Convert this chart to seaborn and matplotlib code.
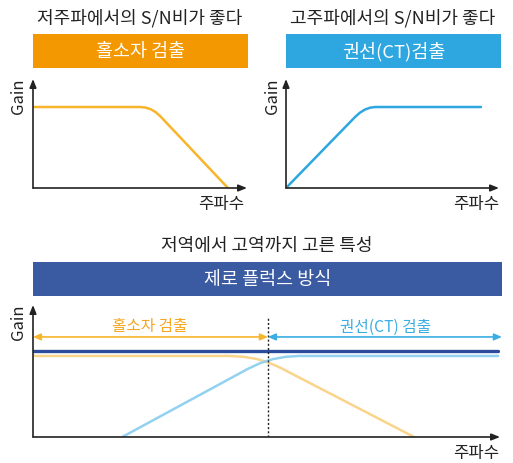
import numpy as np
import pandas as pd
import matplotlib as mpl
import matplotlib.pyplot as plt
import seaborn as sns
from matplotlib.patches import Rectangle

sns.set_style('white')
plt.rcParams['font.family'] = ['Noto Sans CJK KR', 'DejaVu Sans']

# DATA (frequency and gain in % of axis range)
# hall sensor detection: good S/N at low frequency
hall_freq = [0, 50, 52.6, 55.1, 57.4, 59.5, 91.1]
hall_gain = [74.3, 74.3, 73.8, 72.2, 69.5, 65.8, 0]

# CT (current transformer) detection: good S/N at high frequency
ct_freq = [0, 32.4, 34.7, 37.1, 39.5, 42, 91.5]
ct_gain = [0, 65.1, 69.1, 72.0, 73.7, 74.3, 74.3]

# zero flux: combined
zf_freq = [0, 99.6]
zf_gain = [65.2, 65.2]
zf_hall_freq = [0, 42, 45.0, 47.85, 50.5, 53, 81.6]
zf_hall_gain = [61.4, 61.4, 60.8, 59.15, 56.3, 52.4, 0]
zf_ct_freq = [19.1, 46, 48.6, 51.3, 54.2, 57, 99.6]
zf_ct_gain = [0, 51.6, 55.9, 58.95, 60.8, 61.4, 61.4]
crossover = 50.3

titles = ['저주파에서의 S/N비가 좋다', '고주파에서의 S/N비가 좋다', '저역에서 고역까지 고른 특성']
boxes = ['홀소자 검출', '권선(CT)검출', '제로 플럭스 방식']
band_labels = ['홀소자 검출', '권선(CT) 검출']

ORANGE_BOX = '#F39800'
BLUE_BOX = '#2EA7E0'
NAVY_BOX = '#3A5AA2'
ORANGE_LINE = '#F7B52C'
BLUE_LINE = '#2EA7E0'
NAVY_LINE = '#2C4B9B'
ORANGE_LIGHT = '#FBD48C'
BLUE_LIGHT = '#92D2F0'
ORANGE_TEXT = '#F5A623'
BLUE_TEXT = '#3AAEE3'
DARK = '#222222'

W, H = 513, 464
fig = plt.figure(figsize=(W / 100, H / 100), dpi=100)


def rect(l, t, r, b):
    return [l / W, 1 - b / H, (r - l) / W, (b - t) / H]


def ftext(x, y, s, **kw):
    # text placed in pixel coords from top-left
    kw.setdefault('color', DARK)
    fig.text(x / W, 1 - y / H, s, ha='center', va='center', **kw)


def add_box(l, t, r, b, color, text):
    fig.add_artist(Rectangle((l / W, 1 - b / H), (r - l) / W, (b - t) / H,
                             transform=fig.transFigure, color=color, lw=0))
    ftext((l + r) / 2, (t + b) / 2, text, color='white', fontsize=13.3)


def setup_axes(ax):
    ax.set_xlim(0, 100)
    ax.set_ylim(0, 100)
    for s in ax.spines.values():
        s.set_visible(False)
    ax.set_xticks([])
    ax.set_yticks([])
    ax.set_xlabel('')
    ax.set_ylabel('')
    ax.patch.set_alpha(0)
    arrow = dict(arrowstyle='-|>,head_length=0.5,head_width=0.2', color=DARK,
                 lw=1.2, shrinkA=0, shrinkB=0)
    ax.annotate('', xy=(1, 0), xytext=(0, 0), xycoords='axes fraction',
                arrowprops=arrow, annotation_clip=False)
    ax.annotate('', xy=(0, 1), xytext=(0, 0), xycoords='axes fraction',
                arrowprops=arrow, annotation_clip=False)


# top-left panel
ftext(140, 18, titles[0], fontsize=13)
add_box(33, 35, 248, 69, ORANGE_BOX, boxes[0])
ax1 = fig.add_axes(rect(33, 80, 247, 189))
sns.lineplot(x=hall_freq, y=hall_gain, ax=ax1, color=ORANGE_LINE, lw=1.8)
setup_axes(ax1)
ftext(19, 96, 'Gain', fontsize=12, rotation=90)
ftext(221, 204, '주파수', fontsize=12)

# top-right panel
ftext(393, 18, titles[1], fontsize=13)
add_box(286, 35, 501, 69, BLUE_BOX, boxes[1])
ax2 = fig.add_axes(rect(286, 80, 499, 189))
sns.lineplot(x=ct_freq, y=ct_gain, ax=ax2, color=BLUE_LINE, lw=1.8)
setup_axes(ax2)
ftext(272, 96, 'Gain', fontsize=12, rotation=90)
ftext(476, 204, '주파수', fontsize=12)

# bottom panel
ftext(267, 245.5, titles[2], fontsize=13)
add_box(33, 263, 502, 297, NAVY_BOX, boxes[2])
ax3 = fig.add_axes(rect(33, 306, 500, 438))
sns.lineplot(x=zf_hall_freq, y=zf_hall_gain, ax=ax3, color=ORANGE_LIGHT, lw=1.8)
sns.lineplot(x=zf_ct_freq, y=zf_ct_gain, ax=ax3, color=BLUE_LIGHT, lw=1.8)
sns.lineplot(x=zf_freq, y=zf_gain, ax=ax3, color=NAVY_LINE, lw=2.4)
setup_axes(ax3)
ax3.plot([crossover, crossover], [0, 91], color=DARK, lw=1.0, ls=(0, (1.5, 1.5)))
ax3.annotate('', xy=(0, 75.8), xytext=(crossover, 75.8),
             arrowprops=dict(arrowstyle='<|-|>,head_length=0.45,head_width=0.2',
                             color=ORANGE_LINE, lw=1.2, shrinkA=0, shrinkB=0),
             annotation_clip=False)
ax3.annotate('', xy=(100.4, 75.8), xytext=(crossover, 75.8),
             arrowprops=dict(arrowstyle='<|-|>,head_length=0.45,head_width=0.2',
                             color=BLUE_TEXT, lw=1.2, shrinkA=0, shrinkB=0),
             annotation_clip=False)
ax3.text(25, 84.1, band_labels[0], color=ORANGE_TEXT, fontsize=11.3, ha='center', va='center')
ax3.text(75.4, 84.1, band_labels[1], color=BLUE_TEXT, fontsize=11.3, ha='center', va='center')
ftext(19, 322, 'Gain', fontsize=12, rotation=90)
ftext(476, 454, '주파수', fontsize=12)

plt.savefig('out.png', dpi=100)
plt.close()
